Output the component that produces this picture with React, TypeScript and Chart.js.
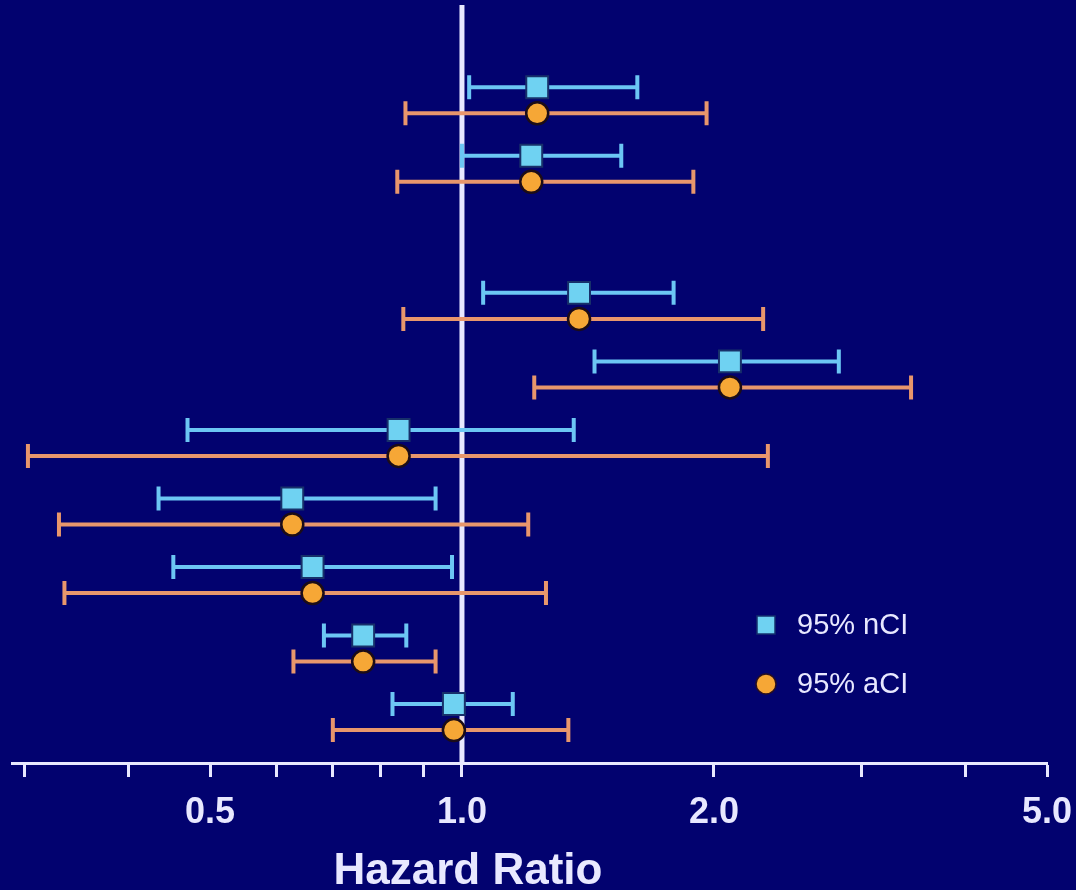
import React, { useEffect, useRef } from 'react';
import { Chart, registerables } from 'chart.js';

Chart.register(...registerables);

// ---- data ----
const rowPositions = [0, 1, 3, 4, 5, 6, 7, 8, 9];
const hazardRatios = [1.23, 1.21, 1.38, 2.09, 0.84, 0.627, 0.663, 0.762, 0.978];
const nciLow = [1.02, 1.0, 1.06, 1.44, 0.47, 0.434, 0.452, 0.684, 0.826];
const nciHigh = [1.62, 1.55, 1.79, 2.82, 1.36, 0.93, 0.973, 0.858, 1.15];
const aciLow = [0.856, 0.837, 0.851, 1.22, 0.303, 0.33, 0.335, 0.629, 0.701];
const aciHigh = [1.96, 1.89, 2.29, 3.44, 2.32, 1.2, 1.26, 0.93, 1.34];
const tickValues = [0.3, 0.4, 0.5, 0.6, 0.7, 0.8, 0.9, 1, 2, 3, 4, 5];
const tickLabels = ['', '', '0.5', '', '', '', '', '1.0', '2.0', '', '', '5.0'];
const seriesLabels = ['95% nCI', '95% aCI'];
const axisTitle = 'Hazard Ratio';
const referenceValue = 1.0;
const aciRowOffset = 0.38;

// ---- styles ----
const BG = '#02026f';
const WHITE = '#e8e8ff';
const BLUE_LINE = '#6cc6f4';
const BLUE_FILL = '#6fd2f2';
const ORANGE_LINE = '#e8966c';
const ORANGE_FILL = '#f6a736';
const FONT = '"Liberation Sans", Arial, sans-serif';

const forestPlugin = {
  id: 'forest',
  beforeDraw(chart: any) {
    const { ctx, width, height } = chart;
    ctx.save();
    ctx.fillStyle = BG;
    ctx.fillRect(0, 0, width, height);
    ctx.restore();
  },
  beforeDatasetsDraw(chart: any) {
    const { ctx, chartArea, scales } = chart;
    const x = scales.x;
    const y = scales.y;
    ctx.save();
    // reference line
    const rx = x.getPixelForValue(referenceValue);
    ctx.strokeStyle = WHITE;
    ctx.lineWidth = 5;
    ctx.beginPath();
    ctx.moveTo(rx, chartArea.top);
    ctx.lineTo(rx, chartArea.bottom);
    ctx.stroke();

    const whisker = (lo: number, hi: number, row: number, color: string) => {
      const x0 = x.getPixelForValue(lo);
      const x1 = x.getPixelForValue(hi);
      const yy = y.getPixelForValue(row);
      ctx.strokeStyle = color;
      ctx.lineWidth = 4;
      ctx.beginPath();
      ctx.moveTo(x0, yy);
      ctx.lineTo(x1, yy);
      ctx.stroke();
      ctx.lineWidth = 4;
      ctx.beginPath();
      ctx.moveTo(x0, yy - 12);
      ctx.lineTo(x0, yy + 12);
      ctx.moveTo(x1, yy - 12);
      ctx.lineTo(x1, yy + 12);
      ctx.stroke();
    };
    rowPositions.forEach((r, i) => {
      whisker(nciLow[i], nciHigh[i], r, BLUE_LINE);
      whisker(aciLow[i], aciHigh[i], r + aciRowOffset, ORANGE_LINE);
    });
    ctx.restore();
  },
  afterDraw(chart: any) {
    const { ctx } = chart;
    ctx.save();
    // axis title
    ctx.fillStyle = WHITE;
    ctx.font = `bold 44px ${FONT}`;
    ctx.textAlign = 'center';
    ctx.textBaseline = 'alphabetic';
    ctx.fillText(axisTitle, 468, 884);

    // legend
    ctx.fillStyle = BLUE_FILL;
    ctx.strokeStyle = '#14306e';
    ctx.lineWidth = 1.5;
    ctx.fillRect(757, 616, 18, 18);
    ctx.strokeRect(757, 616, 18, 18);
    ctx.beginPath();
    ctx.arc(766, 684, 10, 0, Math.PI * 2);
    ctx.fillStyle = ORANGE_FILL;
    ctx.fill();
    ctx.strokeStyle = '#2a1020';
    ctx.stroke();

    ctx.fillStyle = WHITE;
    ctx.font = `29px ${FONT}`;
    ctx.textAlign = 'left';
    ctx.textBaseline = 'middle';
    ctx.fillText(seriesLabels[0], 797, 626);
    ctx.fillText(seriesLabels[1], 797, 685);
    ctx.restore();
  },
};

export default function App() {
  const ref = useRef<HTMLCanvasElement | null>(null);

  useEffect(() => {
    if (!ref.current) return;
    const chart = new Chart(ref.current, {
      type: 'scatter',
      data: {
        datasets: [
          {
            label: seriesLabels[0],
            data: rowPositions.map((r, i) => ({ x: hazardRatios[i], y: r })),
            pointStyle: 'rect',
            pointRadius: 15.5,
            pointHoverRadius: 15.5,
            backgroundColor: BLUE_FILL,
            borderColor: '#17306a',
            borderWidth: 2,
          },
          {
            label: seriesLabels[1],
            data: rowPositions.map((r, i) => ({ x: hazardRatios[i], y: r + aciRowOffset })),
            pointStyle: 'circle',
            pointRadius: 11,
            pointHoverRadius: 11,
            backgroundColor: ORANGE_FILL,
            borderColor: '#1c0c18',
            borderWidth: 2.5,
          },
        ],
      },
      options: {
        responsive: false,
        animation: false,
        events: [],
        layout: { autoPadding: false, padding: { left: 12, right: 29, top: 5, bottom: 0 } },
        plugins: {
          legend: { display: false },
          tooltip: { enabled: false },
        },
        scales: {
          x: {
            type: 'logarithmic',
            min: 0.29,
            max: 5,
            afterBuildTicks: (scale: any) => {
              scale.ticks = tickValues.map((v) => ({ value: v }));
            },
            afterFit: (scale: any) => {
              scale.height = 127;
              scale.paddingLeft = 0;
              scale.paddingRight = 0;
            },
            ticks: {
              autoSkip: false,
              maxRotation: 0,
              minRotation: 0,
              padding: 14,
              color: WHITE,
              font: { family: FONT, size: 36, weight: 'bold' },
              callback: (_v: any, i: number) => tickLabels[i],
            },
            grid: {
              drawOnChartArea: false,
              drawTicks: true,
              tickLength: 14,
              tickColor: WHITE,
              tickWidth: 3,
            },
            border: { display: true, color: WHITE, width: 3 },
          },
          y: {
            type: 'linear',
            min: -1.2,
            max: 9.86,
            reverse: true,
            display: false,
          },
        },
      },
      plugins: [forestPlugin],
    } as any);
    return () => chart.destroy();
  }, []);

  return (
    <div style={{ position: 'absolute', left: 0, top: 0, width: 1076, height: 890, background: BG }}>
      <canvas ref={ref} width={1076} height={890} style={{ display: 'block' }} />
    </div>
  );
}
